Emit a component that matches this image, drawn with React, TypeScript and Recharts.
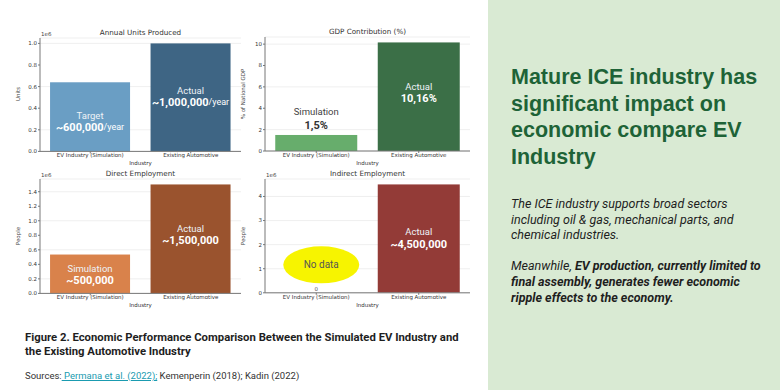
import React from 'react';
import { BarChart, Bar, XAxis, YAxis, CartesianGrid, Cell } from 'recharts';

const industries = ['EV Industry (Simulation)', 'Existing Automotive'];

const unitsProduced = [640000, 1000000];
const gdpShare = [1.5, 10.16];
const directJobs = [535000, 1500000];
const indirectJobs = [0, 4500000];

const unitsTicks = [0, 200000, 400000, 600000, 800000, 1000000];
const gdpTicks = [0, 2, 4, 6, 8, 10];
const directTicks = [0, 200000, 400000, 600000, 800000, 1000000, 1200000, 1400000];
const indirectTicks = [0, 1000000, 2000000, 3000000, 4000000];

const unitsNotes = [
  { top: 'Target', main: '~600,000', unit: '/year' },
  { top: 'Actual', main: '~1,000,000', unit: '/year' },
];
const gdpNotes = [
  { top: 'Simulation', main: '1,5%', unit: '' },
  { top: 'Actual', main: '10,16%', unit: '' },
];
const directNotes = [
  { top: 'Simulation', main: '~500,000', unit: '' },
  { top: 'Actual', main: '~1,500,000', unit: '' },
];
const indirectNotes = [
  { top: 'No data', main: '0', unit: '' },
  { top: 'Actual', main: '~4,500,000', unit: '' },
];

const TICK_FONT = 'DejaVu Sans, sans-serif';
const NOTE_FONT = 'Roboto, sans-serif';

function buildRows(values: number[], notes: any[]) {
  return industries.map((name, i) => ({ name, value: values[i], note: notes[i] }));
}

function makeShape(modes: string[], shifts: number[]) {
  return (props: any) => {
    const { x, y, width, height, fill, payload, index } = props;
    const note = payload.note;
    const mode = modes[index];
    const cx = x + width / 2;
    const cy = y + height / 2 + shifts[index];
    if (mode === 'nodata') {
      return (
        <g>
          <text x={cx} y={y - 2} textAnchor="middle" fontSize={5.5} fill="#555" fontFamily={TICK_FONT}>{note.main}</text>
          <ellipse cx={cx + 5} cy={y - 28} rx={38} ry={18.5} fill="#f7f400" />
          <text x={cx + 5} y={y - 28} textAnchor="middle" dominantBaseline="central" fontSize={10} fill="#555" fontFamily={NOTE_FONT}>{note.top}</text>
        </g>
      );
    }
    const above = mode === 'above';
    const topY = above ? y - 23 : cy - 6;
    const mainY = above ? y - 10 : cy + 6;
    return (
      <g>
        <rect x={x} y={y} width={width} height={height} fill={fill} />
        <text x={cx} y={topY} textAnchor="middle" dominantBaseline="central" fontSize={9.5} fill={above ? '#444' : '#eef3f7'} fontFamily={NOTE_FONT}>{note.top}</text>
        <text x={cx} y={mainY} textAnchor="middle" dominantBaseline="central" fontFamily={NOTE_FONT} fill={above ? '#333' : '#fff'}>
          <tspan fontSize={11} fontWeight={700}>{note.main}</tspan>
          {note.unit ? <tspan fontSize={9}>{note.unit}</tspan> : null}
        </text>
      </g>
    );
  };
}

type PanelProps = {
  title: string;
  ylabel: string;
  offsetText?: string;
  plotLeft: number;
  plotTop: number;
  plotW: number;
  plotH: number;
  values: number[];
  notes: any[];
  ticks: number[];
  domainMax: number;
  fmt: (v: number) => string;
  colors: string[];
  modes: string[];
  shifts: number[];
};

function Panel(p: PanelProps) {
  const yw = 30, mt = 2, mr = 2, xh = 17;
  const rows = buildRows(p.values, p.notes);
  return (
    <>
      <div style={{ position: 'absolute', left: p.plotLeft, width: p.plotW, top: p.plotTop - 10, textAlign: 'center', fontFamily: TICK_FONT, fontSize: 7.2, color: '#333', lineHeight: '9px' }}>{p.title}</div>
      {p.offsetText ? (
        <div style={{ position: 'absolute', left: p.plotLeft + 1, top: p.plotTop - 7, fontFamily: TICK_FONT, fontSize: 5.5, color: '#444', lineHeight: '6px' }}>{p.offsetText}</div>
      ) : null}
      <div style={{ position: 'absolute', left: p.plotLeft - 22, top: p.plotTop + p.plotH / 2, width: 0, height: 0 }}>
        <div style={{ position: 'absolute', transform: 'translate(-50%, -50%) rotate(-90deg)', whiteSpace: 'nowrap', fontFamily: TICK_FONT, fontSize: 5.5, color: '#444' }}>{p.ylabel}</div>
      </div>
      <div style={{ position: 'absolute', left: p.plotLeft - yw, top: p.plotTop - mt }}>
        <BarChart width={yw + p.plotW + mr} height={mt + p.plotH + xh} data={rows} margin={{ top: mt, right: mr, left: 0, bottom: 0 }} barCategoryGap="10%">
          <CartesianGrid vertical={false} stroke="#ebebeb" strokeWidth={0.8} />
          <XAxis dataKey="name" height={xh} tickSize={2} tickMargin={0} stroke="#777" tick={{ fontSize: 5.5, fill: '#333', fontFamily: TICK_FONT }} interval={0}
            label={{ value: 'Industry', position: 'insideBottom', offset: 3, fontSize: 5.5, fill: '#333', fontFamily: TICK_FONT }} />
          <YAxis width={yw} domain={[0, p.domainMax]} ticks={p.ticks} tickFormatter={p.fmt} tickSize={2} tickMargin={1} stroke="#777" allowDataOverflow
            tick={{ fontSize: 5.5, fill: '#333', fontFamily: TICK_FONT }} />
          <Bar dataKey="value" isAnimationActive={false} shape={makeShape(p.modes, p.shifts)}>
            {rows.map((r, i) => <Cell key={r.name} fill={p.colors[i]} />)}
          </Bar>
        </BarChart>
      </div>
    </>
  );
}

export default function App() {
  return (
    <div style={{ position: 'absolute', left: 0, top: 0, width: 780, height: 390, overflow: 'hidden', background: '#fff' }}>
      <Panel title="Annual Units Produced" ylabel="Units" offsetText="1e6" plotLeft={40} plotTop={37.6} plotW={201} plotH={113.4}
        values={unitsProduced} notes={unitsNotes} ticks={unitsTicks} domainMax={1050000} fmt={(v) => (v / 1e6).toFixed(1)}
        colors={['#6a9ec4', '#3e6584']} modes={['inside', 'inside']} shifts={[4.5, -1]} />
      <Panel title="GDP Contribution (%)" ylabel="% of National GDP" plotLeft={265} plotTop={37} plotW={205} plotH={114}
        values={gdpShare} notes={gdpNotes} ticks={gdpTicks} domainMax={10.668} fmt={(v) => String(v)}
        colors={['#67ad6c', '#3b6f47']} modes={['above', 'inside']} shifts={[0, -4.5]} />
      <Panel title="Direct Employment" ylabel="People" offsetText="1e6" plotLeft={40} plotTop={178.6} plotW={201} plotH={114.4}
        values={directJobs} notes={directNotes} ticks={directTicks} domainMax={1575000} fmt={(v) => (v / 1e6).toFixed(1)}
        colors={['#d9824b', '#9a532e']} modes={['inside', 'inside']} shifts={[0.5, -4.6]} />
      <Panel title="Indirect Employment" ylabel="People" offsetText="1e6" plotLeft={265} plotTop={179.2} plotW={205} plotH={113.8}
        values={indirectJobs} notes={indirectNotes} ticks={indirectTicks} domainMax={4725000} fmt={(v) => String(v / 1e6)}
        colors={['#934038', '#933b37']} modes={['nodata', 'inside']} shifts={[0, -1]} />

      <div style={{ position: 'absolute', left: 25, top: 331, width: 470, fontFamily: NOTE_FONT, fontWeight: 700, fontSize: 11.3, lineHeight: '14px', color: '#1e1e1e', whiteSpace: 'nowrap' }}>
        Figure 2. Economic Performance Comparison Between the Simulated EV Industry and<br />the Existing Automotive Industry
      </div>
      <div style={{ position: 'absolute', left: 25, top: 370, fontFamily: NOTE_FONT, fontSize: 9.5, lineHeight: '12px', color: '#333', whiteSpace: 'nowrap' }}>
        Sources:<span style={{ color: '#1a9bb0', textDecoration: 'underline' }}> Permana et al. (2022);</span> Kemenperin (2018); Kadin (2022)
      </div>

      <div style={{ position: 'absolute', left: 488, top: 0, width: 292, height: 390, background: '#d9ead3' }}>
        <div style={{ position: 'absolute', left: 23, top: 64, fontFamily: 'Liberation Sans, Arial, sans-serif', fontWeight: 700, fontSize: 21.5, lineHeight: '26.5px', color: '#1e6337', whiteSpace: 'nowrap' }}>
          Mature ICE industry has<br />significant impact on<br />economic compare EV<br />Industry
        </div>
        <div style={{ position: 'absolute', left: 23, top: 196, fontFamily: NOTE_FONT, fontStyle: 'italic', fontSize: 12.5, lineHeight: '15.6px', color: '#1e1e1e', whiteSpace: 'nowrap' }}>
          The ICE industry supports broad sectors<br />including oil &amp; gas, mechanical parts, and<br />chemical industries.<br /><br />
          Meanwhile, <b>EV production, currently limited to<br />final assembly, generates fewer economic<br />ripple effects to the economy.</b>
        </div>
      </div>
    </div>
  );
}
